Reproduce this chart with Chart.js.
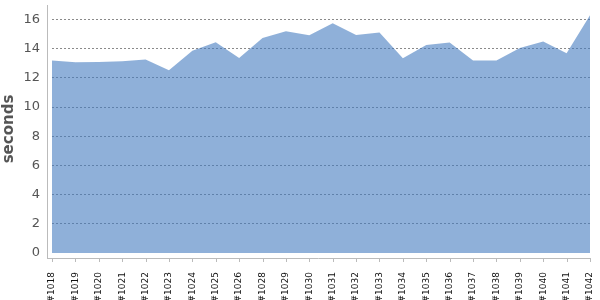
<!DOCTYPE html>
<html>
<head>
<meta charset="utf-8">
<script src="https://cdn.jsdelivr.net/npm/chart.js@4"></script>
<style>
  html, body { margin: 0; padding: 0; background: #fff; }
  #wrap { width: 600px; height: 300px; }
</style>
</head>
<body>
<div id="wrap"><canvas id="grafico"></canvas></div>
<script>
const builds = ["#1018", "#1019", "#1020", "#1021", "#1022", "#1023", "#1024", "#1025", "#1026", "#1028",
  "#1029", "#1030", "#1031", "#1032", "#1033", "#1034", "#1035", "#1036", "#1037", "#1038",
  "#1039", "#1040", "#1041", "#1042"];
const seconds = [13.2, 13.08, 13.1, 13.15, 13.27, 12.53, 13.86, 14.45, 13.36, 14.73,
  15.2, 14.93, 15.75, 14.95, 15.12, 13.35, 14.25, 14.43, 13.2, 13.2,
  14.05, 14.5, 13.7, 16.3];
const yTicks = [0, 2, 4, 6, 8, 10, 12, 14, 16];

// axes drawn a few pixels away from the plot, like the original
const axisGap = 5;
const axisLines = {
  id: 'axisLines',
  afterDraw(chart) {
    const c = chart.ctx, a = chart.chartArea, x = chart.scales.x;
    c.save();
    c.strokeStyle = '#bbbbbb';
    c.lineWidth = 1;
    c.beginPath();
    c.moveTo(a.left - axisGap + 0.5, a.top);
    c.lineTo(a.left - axisGap + 0.5, a.bottom + axisGap);
    c.moveTo(a.left - axisGap, a.bottom + axisGap + 0.5);
    c.lineTo(a.right, a.bottom + axisGap + 0.5);
    x.ticks.forEach(function (t, i) {
      const px = Math.round(x.getPixelForTick(i)) + 0.5;
      c.moveTo(px, a.bottom + axisGap);
      c.lineTo(px, a.bottom + axisGap + 4);
    });
    c.stroke();
    c.restore();
  }
};

new Chart(document.getElementById('grafico'), {
  type: 'line',
  data: {
    labels: builds,
    datasets: [{
      data: seconds,
      fill: 'origin',
      backgroundColor: 'rgba(68, 123, 192, 0.6)',
      borderWidth: 0,
      pointRadius: 0,
      tension: 0
    }]
  },
  options: {
    responsive: true,
    maintainAspectRatio: false,
    animation: false,
    layout: { padding: { top: 5, right: 10 } },
    plugins: { legend: { display: false }, tooltip: { enabled: false } },
    scales: {
      x: {
        border: { display: false },
        grid: { display: false },
        afterFit(s) { s.height = 47; s.paddingLeft = 0; s.paddingRight = 0; },
        ticks: {
          autoSkip: false,
          minRotation: 90,
          maxRotation: 90,
          padding: 11,
          color: '#111',
          font: { family: 'DejaVu Sans', size: 9 }
        }
      },
      y: {
        min: 0,
        max: 17,
        border: { display: false, dash: [2, 2] },
        afterBuildTicks(s) { s.ticks = yTicks.map(v => ({ value: v })); },
        afterFit(s) { s.width = 52; s.paddingTop = 0; s.paddingBottom = 0; },
        grid: {
          drawTicks: false,
          color: ctx => ctx.tick && ctx.tick.value === 0 ? 'rgba(0,0,0,0)' : '#8a8a8a'
        },
        ticks: {
          padding: 12,
          color: '#555',
          font: { family: 'DejaVu Sans', size: 13 }
        },
        title: {
          display: true,
          text: 'seconds',
          color: '#555',
          padding: { top: 0, bottom: 0 },
          font: { family: 'DejaVu Sans', size: 15, weight: 'bold' }
        }
      }
    }
  },
  plugins: [axisLines]
});
</script>
</body>
</html>
